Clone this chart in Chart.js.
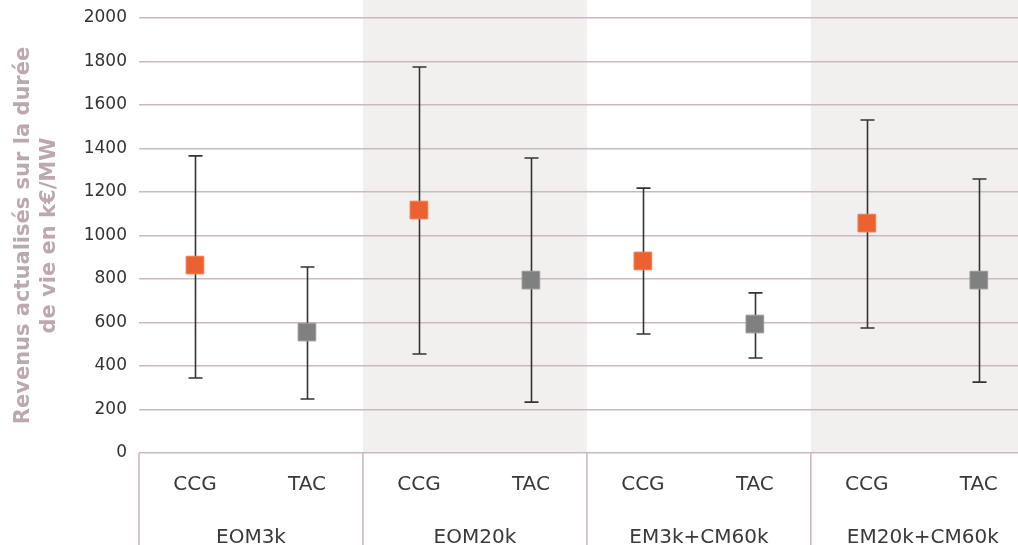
<!DOCTYPE html>
<html>
<head>
<meta charset="utf-8">
<script src="https://cdn.jsdelivr.net/npm/chart.js@4"></script>
<style>
  html, body { margin: 0; padding: 0; background: #ffffff; overflow: hidden; }
  #wrap { width: 1018px; height: 545px; }
</style>
</head>
<body>
<div id="wrap"><canvas id="revChart" width="1018" height="545"></canvas></div>
<script>
// ---- data ----
let groups = ["EOM3k", "EOM20k", "EM3k+CM60k", "EM20k+CM60k"];
let techs = ["CCG", "TAC"];

let ccgValue = [864, 1117, 883, 1057];
let ccgMin = [345, 455, 547, 575];
let ccgMax = [1366, 1775, 1218, 1531];

let tacValue = [556, 795, 593, 795];
let tacMin = [248, 234, 437, 326];
let tacMax = [855, 1356, 736, 1260];

let yTicks = [0, 200, 400, 600, 800, 1000, 1200, 1400, 1600, 1800, 2000];

let fontFamily = "'DejaVu Sans', sans-serif";

// one label per (group, tech), positioned at index 0..7
let labels = [];
groups.forEach(function () {
    techs.forEach(function (t) { labels.push(t); });
});

function points(values, slot) {
    return values.map(function (v, i) { return { x: i * 2 + slot, y: v }; });
}

let ranges = [
    { slot: 0, min: ccgMin, max: ccgMax },
    { slot: 1, min: tacMin, max: tacMax }
];

// shaded group backgrounds + dividers + category / group names
let groupPlugin = {
    id: "groupPlugin",
    beforeDraw: function (chart) {
        let ctx = chart.ctx;
        let x = chart.scales.x;
        let area = chart.chartArea;
        ctx.save();
        ctx.fillStyle = "#f2f0ef";
        groups.forEach(function (g, i) {
            if (i % 2 === 1) {
                let left = x.getPixelForValue(i * 2 - 0.5);
                let right = x.getPixelForValue(i * 2 + 1.5);
                ctx.fillRect(left, 0, right - left, area.bottom);
            }
        });
        ctx.restore();
    },
    afterDraw: function (chart) {
        let ctx = chart.ctx;
        let x = chart.scales.x;
        let area = chart.chartArea;
        ctx.save();
        ctx.strokeStyle = "#c6b6bd";
        ctx.lineWidth = 1.5;
        groups.forEach(function (g, i) {
            let left = x.getPixelForValue(i * 2 - 0.5);
            ctx.beginPath();
            ctx.moveTo(left, area.bottom);
            ctx.lineTo(left, chart.height);
            ctx.stroke();
        });
        ctx.fillStyle = "#3a3a3a";
        ctx.font = "20px " + fontFamily;
        ctx.textAlign = "center";
        ctx.textBaseline = "alphabetic";
        labels.forEach(function (l, k) {
            ctx.fillText(l, x.getPixelForValue(k), area.bottom + 37);
        });
        groups.forEach(function (g, i) {
            ctx.fillText(g, x.getPixelForValue(i * 2 + 0.5), 543);
        });
        ctx.restore();
    }
};

// min / max whiskers
let whiskerPlugin = {
    id: "whiskerPlugin",
    beforeDatasetsDraw: function (chart) {
        let ctx = chart.ctx;
        let x = chart.scales.x;
        let y = chart.scales.y;
        ctx.save();
        ctx.strokeStyle = "#333333";
        ctx.lineWidth = 1.6;
        ranges.forEach(function (r) {
            r.min.forEach(function (lo, i) {
                let px = Math.round(x.getPixelForValue(i * 2 + r.slot)) + 0.5;
                let top = y.getPixelForValue(r.max[i]);
                let bottom = y.getPixelForValue(lo);
                ctx.beginPath();
                ctx.moveTo(px, top);
                ctx.lineTo(px, bottom);
                ctx.moveTo(px - 7, top);
                ctx.lineTo(px + 7, top);
                ctx.moveTo(px - 7, bottom);
                ctx.lineTo(px + 7, bottom);
                ctx.stroke();
            });
        });
        ctx.restore();
    }
};

let ctx = document.getElementById("revChart").getContext("2d");

let revChart = new Chart(ctx, {
    type: "scatter",
    data: {
        datasets: [
            {
                label: "CCG",
                data: points(ccgValue, 0),
                pointStyle: "rect",
                pointRadius: 12.5,
                pointBackgroundColor: "#eb6130",
                pointBorderColor: "#f07a50",
                pointBorderWidth: 1
            },
            {
                label: "TAC",
                data: points(tacValue, 1),
                pointStyle: "rect",
                pointRadius: 12.5,
                pointBackgroundColor: "#808080",
                pointBorderColor: "#9a9a9a",
                pointBorderWidth: 1
            }
        ]
    },
    options: {
        responsive: false,
        animation: false,
        layout: {
            autoPadding: false,
            padding: { top: 18, right: 0, bottom: 0, left: 0 }
        },
        plugins: {
            legend: { display: false },
            tooltip: { enabled: false }
        },
        scales: {
            x: {
                type: "linear",
                min: -0.5,
                max: 7.35,
                grid: { display: false },
                border: { display: false },
                ticks: { display: false },
                afterFit: function (scale) {
                    scale.height = 92;
                    scale.paddingLeft = 0;
                    scale.paddingRight = 0;
                }
            },
            y: {
                min: 0,
                max: 2000,
                afterBuildTicks: function (scale) {
                    scale.ticks = yTicks.map(function (v) { return { value: v }; });
                },
                grid: {
                    color: "#c9b9c0",
                    lineWidth: 1.5,
                    drawTicks: false
                },
                border: { display: false },
                ticks: {
                    color: "#333333",
                    padding: 12,
                    font: { family: fontFamily, size: 17 },
                    callback: function (v) { return String(v); }
                },
                title: {
                    display: true,
                    text: ["Revenus actualisés sur la durée", "de vie en k€/MW"],
                    color: "#bca9af",
                    padding: { top: 10, bottom: 0 },
                    font: { family: fontFamily, size: 21, weight: "bold", lineHeight: 1.25 }
                },
                afterFit: function (scale) {
                    scale.width = 139;
                    scale.paddingTop = 0;
                    scale.paddingBottom = 0;
                }
            }
        }
    },
    plugins: [groupPlugin, whiskerPlugin]
});
</script>
</body>
</html>
